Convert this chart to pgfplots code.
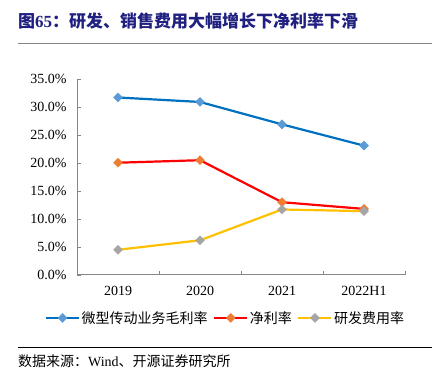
\documentclass[border=0pt]{standalone}
\usepackage{fontspec}
\setmainfont{Liberation Serif}
\newfontfamily\cjk{Noto Sans CJK SC}
\usepackage{pgfplots}
\pgfplotsset{compat=1.18}
\definecolor{titleblue}{RGB}{32,32,128}
\definecolor{lblue}{RGB}{0,112,192}
\definecolor{mblue}{RGB}{91,155,213}
\definecolor{lred}{RGB}{255,0,0}
\definecolor{morange}{RGB}{237,125,49}
\definecolor{lyellow}{RGB}{255,192,0}
\definecolor{mgray}{RGB}{165,165,165}
\definecolor{axgray}{RGB}{134,134,134}
\begin{document}
\begin{tikzpicture}[x=1bp,y=1bp]
\path[use as bounding box] (0bp,0bp) rectangle (432bp,384bp);
\node[anchor=west, inner sep=0pt, text=titleblue, font=\fontsize{17bp}{19bp}\selectfont] at (18bp,363bp) {{\cjk\bfseries 图}\textbf{65}{\cjk\bfseries ：研发、销售费用大幅增长下净利率下滑}};
\draw[axgray, line width=1bp] (18bp,340bp) -- (432bp,340bp);
\draw[black, line width=0.8bp] (18bp,37bp) -- (432bp,37bp);
\node[anchor=west, inner sep=0pt, font=\fontsize{14bp}{16bp}\selectfont] at (18bp,23bp) {{\cjk 数据来源：}Wind{\cjk 、开源证券研究所}};
\begin{axis}[at={(77bp,109bp)}, anchor=south west, scale only axis, width=328bp, height=196bp,
  xmin=-0.5, xmax=3.5, ymin=0, ymax=35,
  axis x line*=bottom, axis y line*=left,
  axis line style={-, draw=axgray, line width=1bp},
  xtick={0,1,2,3}, xticklabels={2019,2020,2021,2022H1},
  minor xtick={0.5,1.5,2.5,3.5},
  ytick={0,5,...,35},
  yticklabel={\pgfmathprintnumber[fixed,fixed zerofill,precision=1]{\tick}\%},
  /pgf/number format/assume math mode=true,
  tick align=inside,
  tick style={axgray, line width=0.8bp},
  major tick length=4bp, minor tick length=4bp,
  major x tick style={draw=none},
  ticklabel style={font=\fontsize{14bp}{16bp}\selectfont},
  yticklabel style={xshift=-7bp},
  xticklabel style={yshift=-8bp},
  legend columns=3,
  legend style={at={(0.452,-0.219)}, anchor=center, draw=none, fill=none,
    font=\cjk\fontsize{14bp}{16bp}\selectfont,
    /tikz/every even column/.append style={column sep=4bp},
    nodes={inner xsep=1.5bp}},
  legend cell align=left,
  legend image code/.code={\draw[#1,mark repeat=2,mark phase=2] plot coordinates {(0bp,0bp)(16.5bp,0bp)(33bp,0bp)};},
]
\addplot[lblue, line width=2.2bp, mark=square*, mark size=3.3bp, mark options={fill=mblue, draw=mblue, rotate=45, line width=0.1bp}] coordinates {(0,31.7)(1,30.9)(2,26.9)(3,23.1)};
\addlegendentry{微型传动业务毛利率}
\addplot[lred, line width=2.2bp, mark=square*, mark size=3.3bp, mark options={fill=morange, draw=morange, rotate=45, line width=0.1bp}] coordinates {(0,20.05)(1,20.5)(2,13.0)(3,11.8)};
\addlegendentry{净利率}
\addplot[lyellow, line width=2.2bp, mark=square*, mark size=3.3bp, mark options={fill=mgray, draw=mgray, rotate=45, line width=0.1bp}] coordinates {(0,4.5)(1,6.2)(2,11.7)(3,11.4)};
\addlegendentry{研发费用率}
\end{axis}
\end{tikzpicture}
\end{document}
